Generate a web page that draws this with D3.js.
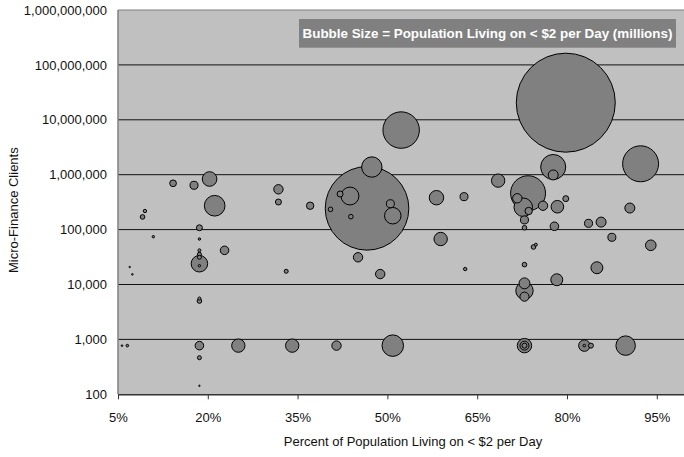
<!DOCTYPE html>
<html>
<head>
<meta charset="utf-8">
<script src="https://cdn.jsdelivr.net/npm/d3@7"></script>
<style>
  body { margin: 0; background: #fff; }
  svg { display: block; }
  text { font-family: "Liberation Sans", Arial, sans-serif; }
</style>
</head>
<body>
<svg id="chart" width="684" height="457"></svg>
<script>
// Share of population living on < $2 per day (percent)
const povertyPct = [
  79.8, 46.6, 52.3, 92.3, 73.5, 77.7, 50.9, 21.15, 47.4, 72.7,
  89.8, 43.75, 72.9, 50.9, 18.6, 20.3, 72.9, 68.5, 25.1, 34.1,
  58.9, 58.2, 78.4, 85.0, 78.3, 82.9, 72.9, 94.0, 72.9, 77.7,
  85.7, 90.5, 72.9, 31.8, 41.5, 45.1, 48.8, 71.7, 76.0, 17.7,
  18.6, 22.8, 77.9, 72.9, 83.6, 87.5, 50.5, 73.6, 37.1, 62.8,
  14.2, 31.8, 18.6, 42.1, 79.8, 9.1, 18.6, 18.6, 40.5, 43.9,
  72.9, 74.4, 72.9, 33.1, 84.0, 9.5, 63.0, 74.8, 18.6, 18.6,
  18.6, 18.6, 10.9, 18.6, 18.6, 6.56, 5.67, 6.95, 7.4, 18.6,
  82.9, 72.9
];

// Number of micro-finance clients
const clients = [
  20500000, 244000, 6500000, 1580000, 460000, 1380000, 770, 272000, 1380000, 255000,
  770, 409000, 7700, 179000, 23900, 835000, 770, 780000, 770, 770,
  67400, 381000, 261000, 20200, 12200, 770, 10500, 51800, 6000, 990000,
  137000, 247000, 770, 542000, 770, 31300, 15500, 372000, 272000, 641000,
  770, 41900, 115000, 150000, 130000, 72400, 296000, 218000, 272000, 398000,
  697000, 318000, 108000, 445000, 366000, 170000, 5000, 464, 234000, 172000,
  108000, 48200, 23000, 17400, 770, 218000, 19100, 53100, 5560, 35500,
  31300, 41900, 74300, 67400, 22000, 770, 770, 20800, 15300, 143,
  770, 770
];

// Population living on < $2 per day (millions) -> bubble area
const populationM = [
  826, 589, 112, 109, 103, 53, 39, 36, 35, 29,
  32, 27, 25.5, 23, 23, 18, 17.5, 15, 15, 15,
  15, 17.5, 13.4, 12, 12, 11, 10, 9.5, 7, 8.4,
  8.4, 8.4, 6.8, 7.4, 7.4, 7.4, 7.4, 7.4, 7.4, 5.4,
  6.2, 6.2, 6.2, 5.4, 5.4, 5.4, 5.4, 4.6, 4.6, 5.4,
  3.8, 3.0, 3.0, 3.0, 3.0, 1.8, 1.8, 1.35, 1.8, 1.8,
  1.8, 1.8, 1.8, 1.35, 2.1, 0.97, 0.97, 0.76, 0.76, 1.35,
  1.35, 0.76, 0.49, 0.49, 0.49, 0.57, 0.22, 0.17, 0.22, 0.17,
  0.57, 2.1
];

const xTickValues = [0.05, 0.20, 0.35, 0.50, 0.65, 0.80, 0.95];
const yTickValues = [1e2, 1e3, 1e4, 1e5, 1e6, 1e7, 1e8, 1e9];

const legendText = "Bubble Size = Population Living on < $2 per Day (millions)";
const xTitle = "Percent of Population Living on < $2 per Day";
const yTitle = "Micro-Finance Clients";

const svg = d3.select("#chart");
const plotLeft = 118, plotRight = 686.7, plotTop = 10, plotBottom = 394.3;
const textColor = "#111";

const x = d3.scaleLinear().domain([0.05, 1.0]).range([plotLeft, plotRight]);
const y = d3.scaleLog().domain([1e2, 1e9]).range([plotBottom, plotTop]);
const r = d3.scaleSqrt().domain([0, d3.max(populationM)]).range([0, 49.5]);

// plot background
svg.append("rect")
  .attr("x", plotLeft).attr("y", plotTop)
  .attr("width", plotRight - plotLeft).attr("height", plotBottom - plotTop)
  .attr("fill", "#c0c0c0");

// horizontal gridlines at each decade
svg.append("g")
  .selectAll("line")
  .data(yTickValues.filter(v => v > 1e2 && v < 1e9))
  .join("line")
  .attr("x1", plotLeft).attr("x2", plotRight)
  .attr("y1", d => y(d)).attr("y2", d => y(d))
  .attr("stroke", "#111").attr("stroke-width", 1);

// top and left borders of the plot area
svg.append("line")
  .attr("x1", plotLeft).attr("x2", plotRight).attr("y1", y(1e9)).attr("y2", y(1e9))
  .attr("stroke", "#808080").attr("stroke-width", 1.2);
svg.append("line")
  .attr("x1", plotLeft).attr("x2", plotLeft).attr("y1", plotTop).attr("y2", plotBottom)
  .attr("stroke", "#808080").attr("stroke-width", 1.5);

// bubbles, largest drawn first so small ones stay visible
const points = povertyPct.map((p, i) => ({ p: p / 100, c: clients[i], pop: populationM[i] }))
  .sort((a, b) => b.pop - a.pop);

svg.append("g")
  .selectAll("circle")
  .data(points)
  .join("circle")
  .attr("cx", d => x(d.p))
  .attr("cy", d => y(d.c))
  .attr("r", d => r(d.pop))
  .attr("fill", "#808080")
  .attr("stroke", "#000")
  .attr("stroke-width", 1);

// x axis
const xAxis = svg.append("g")
  .attr("transform", `translate(0,${plotBottom})`)
  .call(d3.axisBottom(x).tickValues(xTickValues).tickFormat(d3.format(".0%"))
    .tickSize(5).tickSizeOuter(0).tickPadding(13));
xAxis.select(".domain").attr("stroke", "#333").attr("stroke-width", 1.5);
xAxis.selectAll(".tick line").attr("stroke", "#333").attr("stroke-width", 1);
xAxis.selectAll("text").attr("font-size", 13).attr("fill", textColor)
  .style("font-family", "'Liberation Sans', Arial, sans-serif");

// y axis labels
const yAxis = svg.append("g")
  .attr("transform", `translate(${plotLeft},0)`)
  .call(d3.axisLeft(y).tickValues(yTickValues).tickFormat(d3.format(","))
    .tickSize(0).tickPadding(11));
yAxis.select(".domain").remove();
yAxis.selectAll("text").attr("font-size", 13).attr("fill", textColor)
  .style("font-family", "'Liberation Sans', Arial, sans-serif");

// legend box
const lg = svg.append("g");
lg.append("rect")
  .attr("x", 299).attr("y", 19).attr("width", 377).attr("height", 28.7)
  .attr("fill", "#808080");
lg.append("text")
  .attr("x", 487.5).attr("y", 38)
  .attr("text-anchor", "middle")
  .attr("font-size", 13.4).attr("font-weight", "bold")
  .attr("fill", "#fff")
  .text(legendText);

// axis titles
svg.append("text")
  .attr("x", 413).attr("y", 446)
  .attr("text-anchor", "middle")
  .attr("font-size", 13).attr("fill", textColor)
  .text(xTitle);

svg.append("text")
  .attr("transform", `translate(18,${(plotTop + plotBottom) / 2 + 8}) rotate(-90)`)
  .attr("text-anchor", "middle")
  .attr("font-size", 13).attr("fill", textColor)
  .text(yTitle);
</script>
</body>
</html>
